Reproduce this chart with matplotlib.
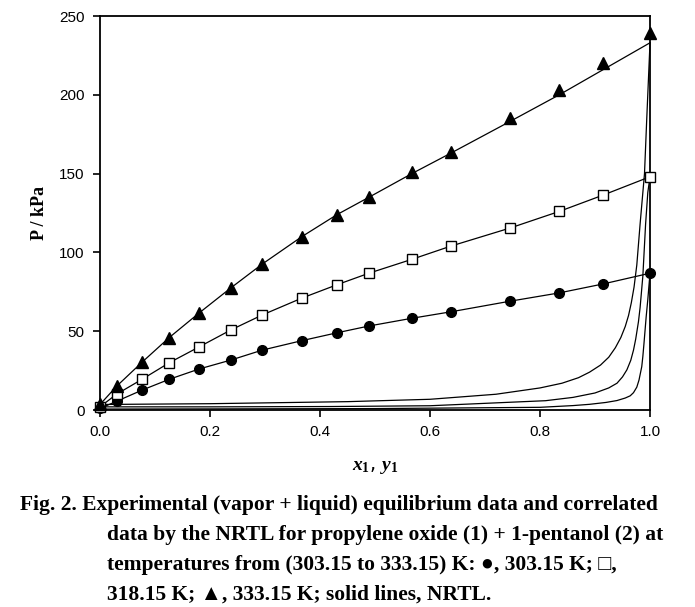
import matplotlib
matplotlib.use("Agg")
import matplotlib.pyplot as plt

plt.rcParams['mathtext.fontset'] = 'custom'
plt.rcParams['mathtext.rm'] = 'Liberation Serif:bold'
plt.rcParams['mathtext.it'] = 'Liberation Serif:italic:bold'

# experimental liquid mole fractions x1
x_exp = [0.0, 0.03, 0.077, 0.126, 0.18, 0.238, 0.295, 0.367, 0.431,
         0.489, 0.567, 0.638, 0.745, 0.835, 0.915, 1.0]

# experimental pressures (kPa)
p_303 = [1.0, 5.5, 12.7, 19.5, 26.0, 31.7, 38.0, 44.0, 49.0,
         53.3, 58.2, 62.3, 69.0, 74.3, 80.0, 86.8]
p_318 = [2.0, 10.0, 19.6, 30.0, 40.0, 50.8, 60.3, 71.0, 79.5,
         86.8, 95.6, 104.0, 115.4, 126.0, 136.4, 148.0]
p_333 = [3.5, 15.0, 30.5, 46.0, 61.5, 77.5, 92.6, 110.0, 124.0,
         135.0, 151.0, 164.0, 185.0, 203.0, 220.0, 239.0]

# NRTL bubble lines (P-x)
nrtl_bub_303 = p_303
nrtl_bub_318 = p_318
nrtl_bub_333 = [3.5, 15.0, 30.5, 46.0, 61.5, 77.5, 92.6, 110.0, 124.0,
                135.0, 150.0, 163.0, 183.0, 200.0, 216.0, 233.0]

# NRTL dew lines (P-y)
y_dew_303 = [0.0, 0.2, 0.5, 0.8, 0.86, 0.89, 0.92, 0.94, 0.955, 0.964,
             0.97, 0.976, 0.98, 0.985, 0.987, 0.989, 0.993, 0.996, 1.0]
p_dew_303 = [0.6, 0.7, 0.9, 1.7, 2.8, 3.6, 4.8, 6.0, 7.6, 9.0,
             11.0, 14.5, 19.0, 27.5, 34.0, 42.0, 59.0, 70.0, 86.8]
y_dew_318 = [0.0, 0.2, 0.42, 0.6, 0.81, 0.86, 0.9, 0.925, 0.94, 0.95,
             0.958, 0.965, 0.97, 0.974, 0.979, 0.982, 0.987, 0.992, 0.996, 1.0]
p_dew_318 = [2.0, 2.0, 2.2, 2.7, 5.9, 8.0, 10.8, 14.0, 17.0, 21.0,
             25.5, 31.5, 38.0, 45.0, 56.0, 65.0, 85.0, 118.0, 138.0, 148.0]
y_dew_333 = [0.0, 0.2, 0.45, 0.6, 0.72, 0.8, 0.84, 0.87, 0.89, 0.91,
             0.925, 0.937, 0.947, 0.955, 0.961, 0.966, 0.971, 0.976, 0.982,
             0.99, 0.994, 1.0]
p_dew_333 = [3.5, 4.0, 5.3, 6.8, 10.0, 14.0, 17.0, 20.5, 24.0, 28.5,
             33.5, 39.5, 46.0, 53.0, 60.0, 68.0, 78.0, 92.0, 118.0,
             150.0, 184.0, 233.0]

x_ticks = [0.0, 0.2, 0.4, 0.6, 0.8, 1.0]
y_ticks = [0, 50, 100, 150, 200, 250]

caption = [
    "Fig. 2. Experimental (vapor + liquid) equilibrium data and correlated",
    "data by the NRTL for propylene oxide (1) + 1-pentanol (2) at",
    "temperatures from (303.15 to 333.15) K: \u25cf, 303.15 K; \u25a1,",
    "318.15 K; \u25b2, 333.15 K; solid lines, NRTL.",
]

fig = plt.figure(figsize=(6.95, 6.07), dpi=100)
ax = fig.add_axes([100 / 695, 197 / 607, 550 / 695, 394 / 607])

lw = 0.9
for yd, pd in [(y_dew_303, p_dew_303), (y_dew_318, p_dew_318), (y_dew_333, p_dew_333)]:
    ax.plot(yd, pd, color='black', lw=lw, clip_on=False)
for pb in [nrtl_bub_303, nrtl_bub_318, nrtl_bub_333]:
    ax.plot(x_exp, pb, color='black', lw=lw, clip_on=False)

ax.plot(x_exp, p_303, 'o', color='black', ms=7, clip_on=False, zorder=5)
ax.plot(x_exp, p_318, 's', mfc='white', mec='black', mew=1.0, ms=7, clip_on=False, zorder=5)
ax.plot(x_exp, p_333, '^', color='black', ms=8.5, clip_on=False, zorder=5)

ax.set_xlim(0, 1)
ax.set_ylim(0, 250)
ax.set_xticks(x_ticks)
ax.set_xticklabels([f"{v:.1f}" for v in x_ticks])
ax.set_yticks(y_ticks)
for s in ax.spines.values():
    s.set_linewidth(1.3)
ax.tick_params(direction='out', length=5, width=1.2, labelsize=11, pad=6)
for lab in ax.get_xticklabels() + ax.get_yticklabels():
    lab.set_family('Liberation Sans')

ax.set_ylabel("P / kPa", family='Liberation Serif', fontweight='bold', fontsize=13, labelpad=8)
fig.text(375 / 695, 1 - 466 / 607, "$x_1$, $y_1$", fontsize=14, ha='center', va='center')

for i, line in enumerate(caption):
    x0 = 20 if i == 0 else 107
    fig.text(x0 / 695, 1 - (505 + 30 * i) / 607, line, family=['Liberation Serif', 'DejaVu Serif'],
             fontweight='bold', fontsize=15.5, ha='left', va='center')

fig.savefig("out.png", dpi=100)
